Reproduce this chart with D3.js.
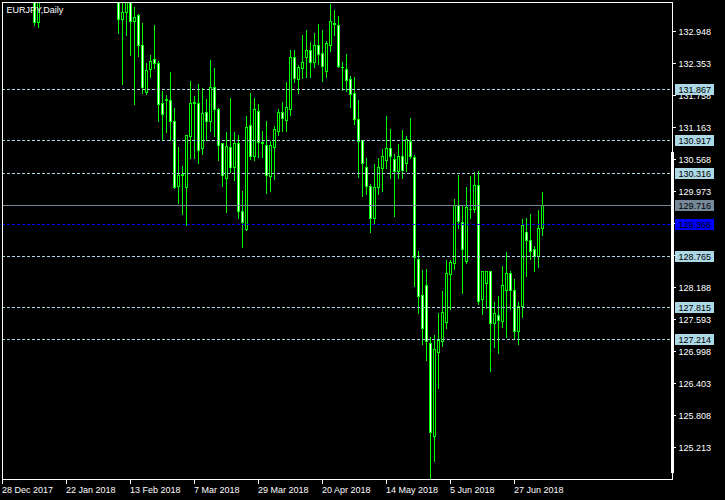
<!DOCTYPE html>
<html><head><meta charset="utf-8">
<script src="https://cdn.jsdelivr.net/npm/d3@7"></script>
<style>
html,body{margin:0;padding:0;background:#000;}
svg{display:block;}
text{font-family:"Liberation Sans",Arial,sans-serif;font-size:9px;}
</style>
</head><body><svg id="c" width="725" height="500"></svg>
<script>
const title = "EURJPY,Daily";
const dates = [
"2017-12-28","2017-12-29",
"2018-01-02","2018-01-03","2018-01-04","2018-01-05",
"2018-01-08","2018-01-09","2018-01-10","2018-01-11","2018-01-12",
"2018-01-15","2018-01-16","2018-01-17","2018-01-18","2018-01-19",
"2018-01-22","2018-01-23","2018-01-24","2018-01-25","2018-01-26",
"2018-01-29","2018-01-30","2018-01-31","2018-02-01","2018-02-02",
"2018-02-05","2018-02-06","2018-02-07","2018-02-08","2018-02-09",
"2018-02-12","2018-02-13","2018-02-14","2018-02-15","2018-02-16",
"2018-02-19","2018-02-20","2018-02-21","2018-02-22","2018-02-23",
"2018-02-26","2018-02-27","2018-02-28","2018-03-01","2018-03-02",
"2018-03-05","2018-03-06","2018-03-07","2018-03-08","2018-03-09",
"2018-03-12","2018-03-13","2018-03-14","2018-03-15","2018-03-16",
"2018-03-19","2018-03-20","2018-03-21","2018-03-22","2018-03-23",
"2018-03-26","2018-03-27","2018-03-28","2018-03-29","2018-03-30",
"2018-04-02","2018-04-03","2018-04-04","2018-04-05","2018-04-06",
"2018-04-09","2018-04-10","2018-04-11","2018-04-12","2018-04-13",
"2018-04-16","2018-04-17","2018-04-18","2018-04-19","2018-04-20",
"2018-04-23","2018-04-24","2018-04-25","2018-04-26","2018-04-27",
"2018-04-30","2018-05-01","2018-05-02","2018-05-03","2018-05-04",
"2018-05-07","2018-05-08","2018-05-09","2018-05-10","2018-05-11",
"2018-05-14","2018-05-15","2018-05-16","2018-05-17","2018-05-18",
"2018-05-21","2018-05-22","2018-05-23","2018-05-24","2018-05-25",
"2018-05-28","2018-05-29","2018-05-30","2018-05-31","2018-06-01",
"2018-06-04","2018-06-05","2018-06-06","2018-06-07","2018-06-08",
"2018-06-11","2018-06-12","2018-06-13","2018-06-14","2018-06-15",
"2018-06-18","2018-06-19","2018-06-20","2018-06-21","2018-06-22",
"2018-06-25","2018-06-26","2018-06-27","2018-06-28","2018-06-29",
"2018-07-02","2018-07-03","2018-07-04","2018-07-05","2018-07-06"];

const open = [
134.90,134.95,135.25,135.30,135.10,135.95,136.00,135.50,134.60,133.11,
134.70,135.90,136.20,135.10,135.60,135.70,135.80,135.50,135.20,135.80,
136.10,135.40,134.90,135.00,135.40,136.20,137.10,135.60,134.60,134.40,
133.17,133.31,133.52,133.14,133.25,132.69,131.81,132.25,132.42,132.36,
131.61,131.67,131.67,131.28,130.06,130.27,130.05,130.99,131.61,131.61,
130.77,131.45,131.28,131.91,131.49,130.86,130.21,130.79,130.42,130.87,
129.61,129.27,131.20,130.62,131.46,130.88,130.82,130.25,130.79,131.08,
131.45,131.30,131.49,132.46,132.06,132.26,132.47,132.60,132.37,132.68,
132.54,132.21,132.69,133.09,133.06,132.28,132.25,132.05,131.79,131.32,
130.93,130.42,130.06,129.47,130.05,130.40,130.55,130.78,130.56,130.34,
130.63,130.50,130.91,130.61,128.70,128.03,128.22,127.14,125.41,126.98,
127.18,127.53,128.43,128.64,129.72,129.39,128.67,129.63,129.63,130.08,
127.97,128.27,128.49,127.52,127.67,127.56,128.13,128.44,128.14,127.37,
127.83,129.22,129.07,128.89,128.76,129.29];
const high = [
135.10,135.40,135.60,135.45,136.10,136.30,136.10,135.60,134.80,134.90,
136.10,136.60,136.40,135.80,136.00,136.00,135.90,135.80,136.00,136.60,
136.40,135.60,135.30,135.80,136.40,137.50,137.20,135.80,135.20,134.50,
133.62,133.70,133.65,133.41,133.29,133.11,132.38,132.53,133.08,132.41,
131.86,131.77,132.20,131.53,130.81,130.45,131.02,132.03,131.75,131.99,
131.90,131.71,132.43,132.28,131.54,130.89,131.08,131.72,131.08,131.03,
129.99,131.39,131.82,131.72,131.61,131.10,131.30,130.93,131.20,131.51,
131.64,132.01,132.62,132.62,132.33,132.90,132.98,132.77,132.93,133.10,
132.99,132.79,133.47,133.35,133.25,132.39,132.54,132.13,132.12,131.68,
130.94,130.60,130.13,130.50,130.60,130.78,131.39,131.15,130.68,130.86,
131.13,131.02,131.35,130.67,128.88,128.53,128.55,127.27,127.32,127.73,
128.14,128.70,128.70,129.84,130.29,129.74,130.07,130.27,130.35,130.37,
128.51,128.51,128.51,127.93,128.03,128.60,128.85,128.51,128.35,127.93,
129.48,129.49,129.57,128.97,129.63,129.98];
const low = [
134.60,134.80,135.00,134.90,135.00,135.70,135.40,134.40,133.07,133.04,
134.50,135.70,134.90,134.80,135.20,135.40,135.30,134.80,135.00,135.60,
135.10,134.70,134.40,134.80,135.30,136.00,135.40,134.20,134.00,132.93,
131.99,132.89,132.52,131.61,132.50,131.81,131.80,132.12,132.27,131.29,
130.94,131.09,130.94,130.04,129.77,129.57,129.36,130.60,130.60,130.51,
130.68,130.94,131.10,131.01,130.57,130.09,129.61,130.34,130.20,129.49,
128.95,129.26,130.58,130.56,130.62,130.62,129.96,129.99,130.22,131.04,
131.10,131.10,131.41,132.02,131.81,132.10,132.11,132.11,132.29,132.36,
132.03,132.11,132.60,132.90,132.29,131.87,131.86,131.56,131.24,130.26,
129.89,129.94,129.23,129.37,129.94,130.00,130.42,130.24,129.53,130.24,
130.24,130.37,130.60,128.23,127.72,127.15,126.84,124.63,124.97,126.32,
127.11,127.45,127.79,128.55,129.31,128.10,128.66,129.49,129.60,127.89,
127.70,127.82,126.64,127.09,126.98,127.46,127.27,127.79,127.26,127.15,
127.65,128.41,128.72,128.50,128.58,129.17];
const close = [
134.95,135.25,135.30,135.10,135.95,136.00,135.50,134.60,133.11,134.70,
135.90,136.20,135.10,135.60,135.70,135.80,135.50,135.20,135.80,136.10,
135.40,134.90,135.00,135.40,136.20,137.10,135.60,134.60,134.40,133.17,
133.31,133.52,133.14,133.20,132.69,131.91,132.23,132.39,132.36,131.60,
131.40,131.68,131.28,130.05,130.27,130.28,131.01,131.61,131.62,130.73,
131.43,131.28,131.91,131.49,130.83,130.27,130.81,130.42,130.87,129.61,
129.39,131.17,130.62,131.49,130.88,130.86,130.27,130.82,131.12,131.45,
131.33,131.53,132.46,132.07,132.28,132.38,132.60,132.37,132.69,132.53,
132.29,132.72,133.13,133.08,132.29,132.28,132.03,131.77,131.32,130.91,
130.50,130.06,129.47,130.05,130.42,130.63,130.78,130.62,130.34,130.63,
130.36,130.94,130.62,128.74,128.02,127.42,127.19,125.49,127.03,127.21,
127.72,128.45,128.66,129.72,129.42,128.90,129.67,129.64,130.09,127.93,
128.48,128.49,127.52,127.70,127.57,128.22,128.44,128.14,127.37,127.83,
129.34,129.07,128.86,128.76,129.29,129.72];

const yTickLabels = ["132.948","132.353","131.758","131.163","130.568","129.973","129.378",
                     "128.783","128.188","127.593","126.998","126.403","125.808","125.213"];
const xTickDates  = ["2017-12-28","2018-01-22","2018-02-13","2018-03-07","2018-03-29",
                     "2018-04-20","2018-05-14","2018-06-05","2018-06-27"];
const xTickLabels = ["28 Dec 2017","22 Jan 2018","13 Feb 2018","7 Mar 2018","29 Mar 2018",
                     "20 Apr 2018","14 May 2018","5 Jun 2018","27 Jun 2018"];
const levelLines = [131.867,130.917,130.316,128.765,127.815,127.214];
const bidPrice = 129.716;
const bluePrice = 129.366;

const L = 2, T = 2, R = 672, B = 479;
const svg = d3.select("#c");
svg.append("rect").attr("width",725).attr("height",500).attr("fill","#000");

const x = d3.scaleBand().domain(dates).range([0.5, 0.5 + 4*dates.length]);
const y = d3.scaleLinear().domain([124.627, 133.497]).range([B, T]);
const py = v => Math.floor(y(v)) + 0.5;

svg.append("clipPath").attr("id","clip").append("rect")
  .attr("x",L+1).attr("y",T+1).attr("width",R-L-1).attr("height",B-T-1);

const data = dates.map((d,i)=>({d, o:open[i], h:high[i], l:low[i], c:close[i]}));
const g = svg.append("g").attr("clip-path","url(#clip)").attr("shape-rendering","crispEdges");
const lime = "#00ff00";

const cg = g.selectAll("g.c").data(data).join("g").attr("class","c");
cg.append("line")
  .attr("x1", d=>x(d.d)+2).attr("x2", d=>x(d.d)+2)
  .attr("y1", d=>py(d.h)).attr("y2", d=>py(d.l)+1)
  .attr("stroke", lime).attr("stroke-width",1);
cg.each(function(d){
  const sel = d3.select(this);
  const top = py(Math.max(d.o,d.c)), bot = py(Math.min(d.o,d.c));
  const cx = x(d.d)+2;
  if (bot - top < 1) {
    sel.append("line").attr("x1",cx-1.5).attr("x2",cx+1.5)
      .attr("y1",top).attr("y2",top).attr("stroke",lime);
  } else {
    sel.append("rect").attr("x",cx-1).attr("y",top).attr("width",2).attr("height",bot-top)
      .attr("fill", d.c < d.o ? "#fff" : "#000").attr("stroke",lime).attr("stroke-width",1);
  }
});

// horizontal level lines
const lg = svg.append("g").attr("shape-rendering","crispEdges");
lg.selectAll("line.lvl").data(levelLines).join("line")
  .attr("x1",L).attr("x2",R).attr("y1",d=>py(d)).attr("y2",d=>py(d))
  .attr("stroke","#add8e6").attr("stroke-dasharray","3,2");
lg.append("line").attr("x1",L).attr("x2",R).attr("y1",py(bidPrice)).attr("y2",py(bidPrice))
  .attr("stroke","#778899");
lg.append("line").attr("x1",L).attr("x2",R).attr("y1",py(bluePrice)).attr("y2",py(bluePrice))
  .attr("stroke","#0000ff").attr("stroke-dasharray","3,2");

// frame
const fg = svg.append("g").attr("shape-rendering","crispEdges").attr("stroke","#fff");
fg.append("line").attr("x1",L).attr("x2",R+1).attr("y1",T+0.5).attr("y2",T+0.5);
fg.append("line").attr("x1",L+0.5).attr("x2",L+0.5).attr("y1",T).attr("y2",B+1);
fg.append("line").attr("x1",L).attr("x2",R+1).attr("y1",B+0.5).attr("y2",B+0.5);
fg.append("line").attr("x1",R+0.5).attr("x2",R+0.5).attr("y1",T).attr("y2",B+1);
svg.append("rect").attr("x",R-1).attr("y",152).attr("width",3).attr("height",321).attr("fill","#fff");

// price axis
const ya = svg.append("g");
yTickLabels.forEach(t=>{
  const v = +t, yy = py(v);
  ya.append("line").attr("x1",R).attr("x2",R+4).attr("y1",yy).attr("y2",yy)
    .attr("stroke","#fff").attr("shape-rendering","crispEdges");
  ya.append("text").attr("x",678.5).attr("y",yy+3.3).attr("fill","#fff").text(t);
});
function tag(v, bg, fg){
  const yy = py(v);
  ya.append("rect").attr("x",675).attr("y",yy-5.5).attr("width",39).attr("height",11)
    .attr("fill",bg).attr("shape-rendering","crispEdges");
  ya.append("text").attr("x",678.5).attr("y",yy+3.3).attr("fill",fg).text(v.toFixed(3));
}
levelLines.forEach(v=>tag(v,"#add8e6","#000"));
tag(bidPrice,"#778899","#000");
tag(bluePrice,"#0000ff","#000");

// time axis
const xa = svg.append("g");
xTickDates.forEach((d,i)=>{
  const xx = x(d)+2;
  xa.append("line").attr("x1",xx).attr("x2",xx).attr("y1",B).attr("y2",B+5)
    .attr("stroke","#fff").attr("shape-rendering","crispEdges");
  xa.append("text").attr("x",xx-0.5).attr("y",492.5).attr("fill","#fff").text(xTickLabels[i]);
});

svg.append("text").attr("x",6.5).attr("y",12.5).attr("fill","#fff").text(title);
</script>
</body></html>
